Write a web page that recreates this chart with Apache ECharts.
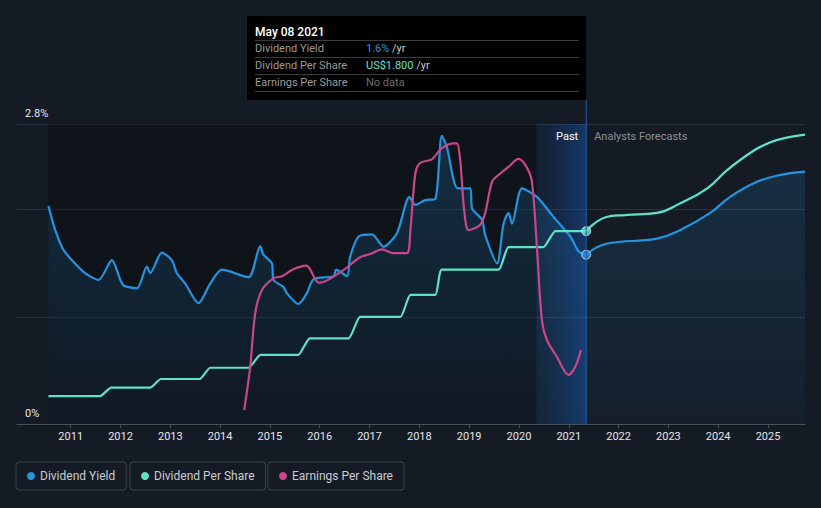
<!DOCTYPE html>
<html><head><meta charset="utf-8">
<style>html,body{margin:0;padding:0;background:#151b25;}#c{width:821px;height:508px;}</style>
<script src="https://cdn.jsdelivr.net/npm/echarts@6/dist/echarts.min.js"></script>
</head><body><div id="c"></div>
<script>
// x values are decimal years
const yearTicks = [2011,2012,2013,2014,2015,2016,2017,2018,2019,2020,2021,2022,2023,2024,2025];
const yTickLabels = {0: '0%', 2.8: '2.8%'};
const dataStart = 2010.554;
const pastStart = 2020.35;
const nowDate = 2021.35;

const yieldPast = [
 [2010.554,2.035],[2010.69,1.81],[2010.855,1.625],[2011.257,1.42],[2011.558,1.345],[2011.827,1.53],
 [2012.048,1.30],[2012.33,1.267],[2012.53,1.47],[2012.597,1.41],[2012.83,1.60],[2013.03,1.53],
 [2013.13,1.41],[2013.30,1.31],[2013.566,1.127],[2013.80,1.31],[2014.036,1.44],[2014.57,1.37],
 [2014.805,1.66],[2014.87,1.58],[2015.04,1.50],[2015.07,1.345],[2015.27,1.28],[2015.34,1.22],
 [2015.57,1.12],[2015.74,1.22],[2015.875,1.35],[2016.28,1.38],[2016.33,1.44],[2016.55,1.38],
 [2016.61,1.56],[2016.78,1.75],[2017.05,1.77],[2017.28,1.655],[2017.55,1.78],[2017.80,2.12],
 [2017.92,2.045],[2018.12,2.09],[2018.32,2.10],[2018.45,2.69],[2018.55,2.59],[2018.77,2.20],
 [2019.02,2.20],[2019.06,2.01],[2019.26,1.905],[2019.32,1.765],[2019.56,1.50],[2019.69,1.87],
 [2019.79,1.97],[2019.86,1.87],[2020.06,2.20],[2020.36,2.12],[2020.69,1.935],[2021.03,1.75],
 [2021.2,1.61],[2021.35,1.58]
];
const yieldForecast = [
 [2021.35,1.58],[2021.74,1.68],[2022.77,1.73],[2023.24,1.81],[2023.84,1.97],[2024.24,2.12],
 [2024.78,2.26],[2025.25,2.325],[2025.743,2.355]
];
const dpsPast = [
 [2010.554,0.26],[2011.59,0.26],[2011.81,0.34],[2012.60,0.34],[2012.81,0.42],[2013.59,0.42],
 [2013.80,0.525],[2014.57,0.525],[2014.81,0.645],[2015.57,0.645],[2015.80,0.80],[2016.58,0.80],
 [2016.81,1.00],[2017.62,1.00],[2017.82,1.205],[2018.32,1.205],[2018.45,1.44],[2019.59,1.44],
 [2019.79,1.65],[2020.49,1.65],[2020.73,1.80],[2021.35,1.80]
];
const dpsForecast = [
 [2021.35,1.80],[2021.74,1.93],[2022.13,1.95],[2022.77,1.97],[2023.24,2.06],[2023.78,2.20],
 [2024.18,2.37],[2024.71,2.55],[2025.05,2.63],[2025.35,2.67],[2025.743,2.70]
];
const epsPast = [
 [2014.484,0.65],[2014.604,2.67],[2014.705,5.17],[2014.84,6.25],[2015.07,6.8],[2015.24,6.9],
 [2015.47,7.22],[2015.73,7.39],[2015.98,6.59],[2016.14,6.69],[2016.48,7.19],[2016.81,7.78],
 [2017.01,7.93],[2017.25,8.15],[2017.48,7.97],[2017.75,7.97],[2017.82,9.05],[2017.92,11.7],
 [2018.02,12.19],[2018.25,12.35],[2018.45,12.87],[2018.69,13.1],[2018.755,13.1],[2018.82,12.32],
 [2018.90,9.99],[2018.99,9.05],[2019.22,9.29],[2019.32,9.83],[2019.46,11.31],[2019.59,11.62],
 [2019.79,12.0],[2019.99,12.37],[2020.15,12.0],[2020.26,11.31],[2020.36,8.27],[2020.46,4.85],
 [2020.56,3.92],[2020.76,3.14],[2020.996,2.29],[2021.13,2.67],[2021.245,3.45]
];

const C_YIELD = '#2394df', C_DPS = '#5fe3c8', C_EPS = '#c8468a';
const FONT = 'Roboto, "Noto Sans", sans-serif';

const chart = echarts.init(document.getElementById('c'), null, {renderer: 'svg'});

const areaGrad = new echarts.graphic.LinearGradient(0,0,0,1,[
  {offset:0,color:'rgba(35,148,223,0.30)'},{offset:1,color:'rgba(35,148,223,0.06)'}]);
const areaGrad2 = new echarts.graphic.LinearGradient(0,0,0,1,[
  {offset:0,color:'rgba(35,148,223,0.22)'},{offset:1,color:'rgba(35,148,223,0.05)'}]);

function legendBox(name, left, color) {
  return {
    data: [{name: name, itemStyle: {color: color}}],
    left: left, top: 462, orient: 'horizontal',
    icon: 'circle', itemWidth: 8, itemHeight: 8,
    padding: [8, 11, 8, 11],
    borderColor: '#3b414d', borderWidth: 1, borderRadius: 3,
    textStyle: {color: '#c9ccd2', fontSize: 12, fontFamily: FONT},
    selectedMode: false
  };
}

chart.setOption({
  backgroundColor: '#151b25',
  animation: false,
  grid: {left: 17, right: 16, top: 124, bottom: 84},
  legend: [
    legendBox('Dividend Yield', 16, C_YIELD),
    legendBox('Dividend Per Share', 130, C_DPS),
    legendBox('Earnings Per Share', 268, C_EPS)
  ],
  xAxis: {
    type: 'value', min: 2009.922, max: 2025.743,
    axisLine: {show: true, lineStyle: {color: '#4a505b', width: 1}},
    axisTick: {show: true, customValues: yearTicks, length: 4, lineStyle: {color: '#4a505b'}},
    axisLabel: {customValues: yearTicks, color: '#e4e6ea', fontSize: 11, fontFamily: FONT, margin: 7,
      formatter: v => String(Math.round(v))},
    splitLine: {show: false}
  },
  yAxis: [{
    type: 'value', min: 0, max: 2.8, interval: 1,
    axisLine: {show: false}, axisTick: {show: false},
    splitLine: {lineStyle: {color: '#2c323d', width: 1}},
    axisLabel: {inside: true, margin: 8, color: '#e4e6ea', fontSize: 11, fontFamily: FONT,
      verticalAlign: 'bottom', padding: [0,0,5,0],
      formatter: v => (yTickLabels[Math.round(v*10)/10] || '')}
  }, {
    type: 'value', min: 0, max: 14, show: false
  }],
  series: [
    {name: 'bg', type: 'line', data: [], z: 1, silent: true,
     markArea: {silent: true, data: [
       [{xAxis: dataStart, itemStyle: {color: 'rgba(0,0,0,0.28)'}}, {xAxis: pastStart}],
       [{xAxis: pastStart, itemStyle: {color: new echarts.graphic.LinearGradient(0,0,1,0,[
          {offset:0,color:'rgba(20,70,150,0.10)'},{offset:1,color:'rgba(20,95,200,0.42)'}])}}, {xAxis: nowDate}]
     ]}},
    {name: 'Dividend Yield', type: 'line', data: yieldPast, smooth: 0.25, symbol: 'none', z: 3,
     lineStyle: {color: C_YIELD, width: 2.2}, itemStyle: {color: C_YIELD}, areaStyle: {color: areaGrad}},
    {name: 'Dividend Yield', type: 'line', data: yieldForecast, smooth: 0.45, symbol: 'none', z: 3,
     lineStyle: {color: C_YIELD, width: 2.2}, itemStyle: {color: C_YIELD}, areaStyle: {color: areaGrad2}},
    {name: 'Dividend Per Share', type: 'line', data: dpsPast, smooth: 0.15, symbol: 'none', z: 4,
     lineStyle: {color: C_DPS, width: 2.2}, itemStyle: {color: C_DPS}},
    {name: 'Dividend Per Share', type: 'line', data: dpsForecast, smooth: 0.45, symbol: 'none', z: 4,
     lineStyle: {color: C_DPS, width: 2.2}, itemStyle: {color: C_DPS}},
    {name: 'Earnings Per Share', type: 'line', yAxisIndex: 1, data: epsPast, smooth: 0.3, symbol: 'none', z: 5,
     lineStyle: {color: C_EPS, width: 2.2}, itemStyle: {color: C_EPS}},
    {name: 'now', type: 'scatter', z: 6, symbolSize: 9,
     data: [
       {value: yieldPast[yieldPast.length-1], itemStyle: {color: C_YIELD}},
       {value: dpsPast[dpsPast.length-1], itemStyle: {color: C_DPS}}
     ],
     itemStyle: {borderColor: '#e8eef5', borderWidth: 1}}
  ]
});

const nowX = chart.convertToPixel({xAxisIndex: 0}, nowDate);
const topY = chart.convertToPixel({yAxisIndex: 0}, 2.8);
const botY = chart.convertToPixel({yAxisIndex: 0}, 0);
const rowY = [48.5, 65.5, 82.5];
const lineY = [40.5, 57.5, 74.5, 91.5];
const g = [
  {type: 'line', z: 10, shape: {x1: nowX, y1: 100, x2: nowX, y2: botY}, style: {stroke: '#1f5fb0', lineWidth: 1}},
  {type: 'text', z: 10, x: nowX - 8, y: topY + 12, style: {text: 'Past', fill: '#ffffff', font: '11px ' + FONT, align: 'right', verticalAlign: 'middle'}},
  {type: 'text', z: 10, x: nowX + 8, y: topY + 12, style: {text: 'Analysts Forecasts', fill: '#8b9098', font: '11px ' + FONT, align: 'left', verticalAlign: 'middle'}},
  {type: 'rect', z: 20, shape: {x: 247, y: 16, width: 339, height: 84}, style: {fill: '#000000'}},
  {type: 'text', z: 21, x: 255, y: 31.5, style: {text: 'May 08 2021', fill: '#ffffff', font: '500 12px ' + FONT, verticalAlign: 'middle'}}
];
lineY.forEach(y => g.push({type: 'line', z: 21, shape: {x1: 255, y1: y, x2: 579, y2: y}, style: {stroke: '#3a3a3a', lineWidth: 1}}));
const rowNames = ['Dividend Yield', 'Dividend Per Share', 'Earnings Per Share'];
rowNames.forEach((n, i) => g.push({type: 'text', z: 21, x: 255, y: rowY[i], style: {text: n, fill: '#9a9a9a', font: '11px ' + FONT, verticalAlign: 'middle'}}));
const rowVals = [
  {text: '{a|1.6%}{b| /yr}', c: C_YIELD},
  {text: '{a|US$1.800}{b| /yr}', c: C_DPS},
  {text: '{n|No data}', c: '#777'}
];
rowVals.forEach((r, i) => g.push({type: 'text', z: 21, x: 366, y: rowY[i], style: {
  text: r.text, font: '11px ' + FONT, verticalAlign: 'middle',
  rich: {a: {fill: r.c, font: '11px ' + FONT}, b: {fill: '#c8c8c8', font: '11px ' + FONT}, n: {fill: '#707070', font: '11px ' + FONT}}
}}));
chart.setOption({graphic: g});
</script>
</body></html>
